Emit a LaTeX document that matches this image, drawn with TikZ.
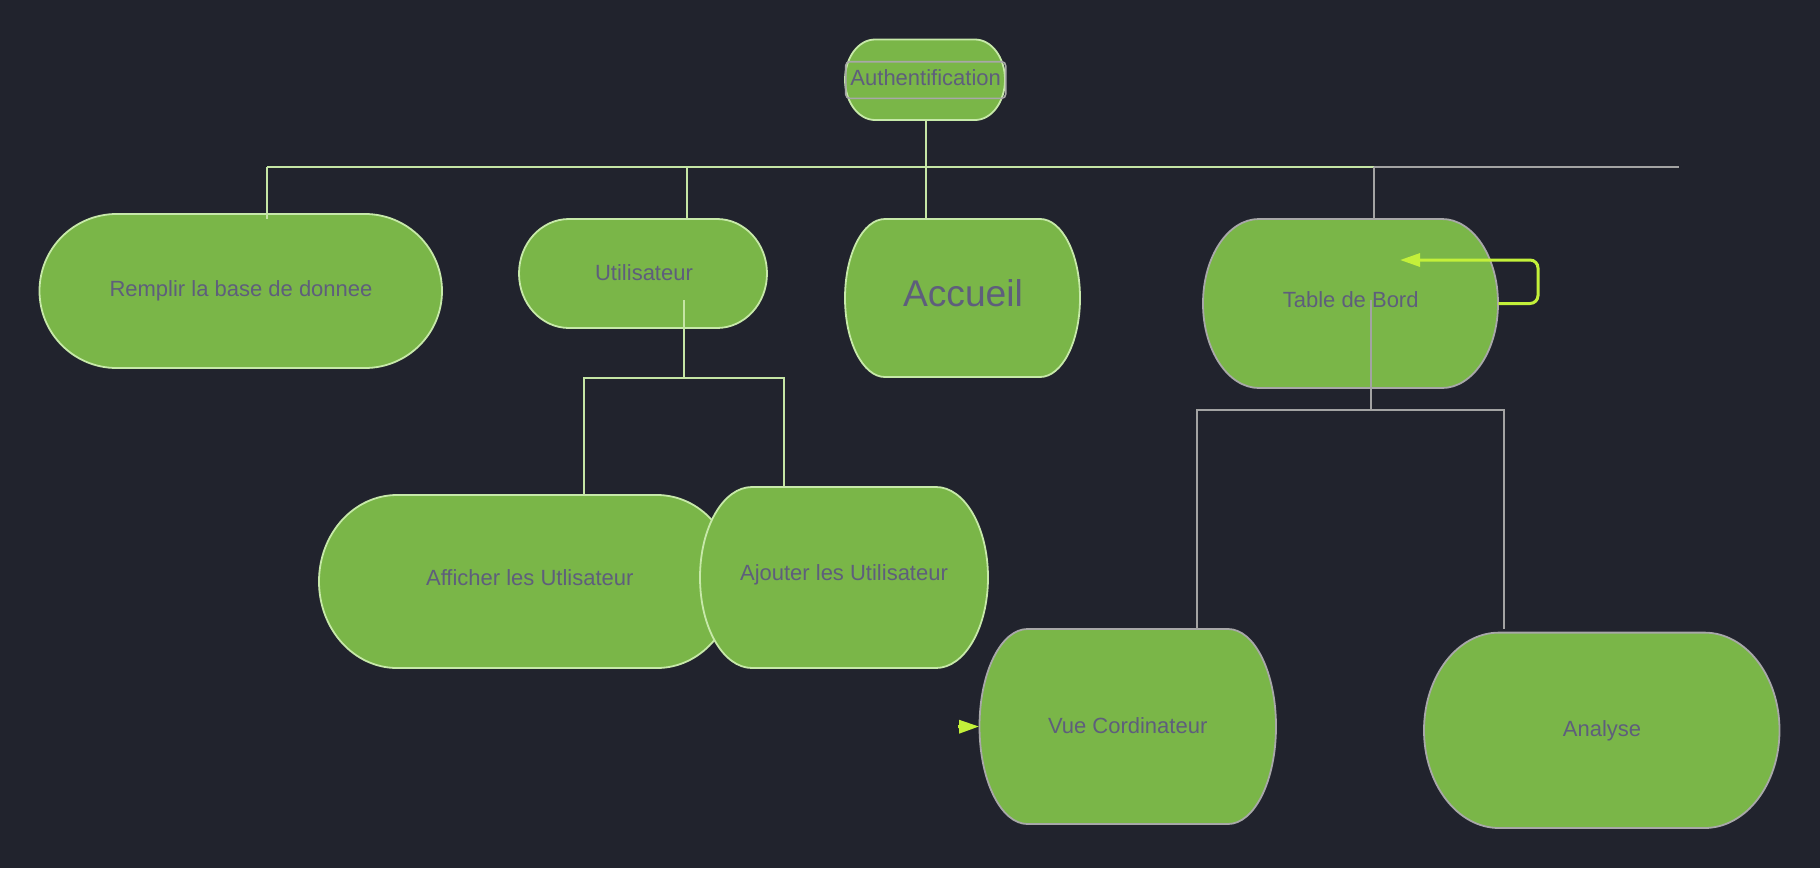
\documentclass[tikz,border=0pt]{standalone}
\usepackage{fontspec}
\setmainfont{Liberation Sans}
\usetikzlibrary{arrows.meta}
\definecolor{bg}{HTML}{21232D}
\definecolor{nodefill}{HTML}{7AB648}
\definecolor{gborder}{HTML}{C7E9A9}
\definecolor{yborder}{HTML}{A8A8A8}
\definecolor{gline}{HTML}{C5E5A5}
\definecolor{yline}{HTML}{A3A3A3}
\definecolor{loopc}{HTML}{C3F03A}
\definecolor{txtc}{HTML}{5E5E7C}
\newcommand\blob[7]{%
  \pgfmathsetmacro\blobry{(#5-#3)/2}%
  \pgfmathsetmacro\blobw{(#4-#2)*0.5}%
  \pgfmathsetmacro\blobh{(#5-#3)*0.5}%
  \path[#7] (#2+#6,-#3) -- (#4-#6,-#3) arc[start angle=90,end angle=-90,x radius=#6,y radius=\blobry] -- (#2+#6,-#5) arc[start angle=270,end angle=90,x radius=#6,y radius=\blobry] -- cycle;%
  \node[inner sep=0pt,minimum width=\blobw pt,minimum height=\blobh pt] (#1) at ({(#2+#4)/2},{-(#3+#5)/2}) {};%
}
\begin{document}
\begin{tikzpicture}[x=0.5pt,y=0.5pt,
  shapeG/.style={fill=nodefill,draw=gborder,line width=0.9pt},
  shapeY/.style={fill=nodefill,draw=yborder,line width=0.9pt},
  txt/.style={text=txtc,font=\fontsize{11}{13}\selectfont,inner sep=0pt,anchor=base},
  gl/.style={draw=gline,line width=0.9pt},
  grl/.style={draw=yline,line width=0.9pt},
  loopline/.style={draw=loopc,line width=1.5pt},
  tip/.style={-{Triangle[length=10pt,width=6.5pt]}}]
\fill[bg] (0,0) rectangle (1820,-868);
\useasboundingbox (0,0) rectangle (1820,-868);

% shapes
\blob{auth}{845}{39.5}{1005}{120}{30}{shapeG}
\blob{rem}{39.5}{214}{442}{368}{77}{shapeG}
\blob{uti}{519}{219}{767}{328}{50}{shapeG}
\blob{acc}{845}{219}{1080}{377}{40}{shapeG}
\blob{tb}{1203}{219}{1498}{388}{56}{shapeY}
\blob{aff}{319}{495}{735}{668}{78}{shapeG}
\blob{ajo}{700}{487}{988}{668}{52}{shapeG}
\blob{vue}{979.5}{629}{1276}{824}{48}{shapeY}
\blob{ana}{1424}{632.6}{1779.5}{828}{75}{shapeY}

% texts
\node[txt,anchor=center,draw=yborder,line width=0.8pt,rounded corners=2pt,
      minimum width=80pt,minimum height=18.3pt,text height=5pt,text depth=0pt] (authT) at (925.7,-80) {Authentification};
\node[txt] (remT) at (241,-296.5) {Remplir la base de donnee};
\node[txt] (utiT) at (644,-280) {Utilisateur};
\node[txt,font=\fontsize{18.6}{22}\selectfont] (accT) at (963,-306) {Accueil};
\node[txt] (tbT) at (1350.7,-307.3) {Table de Bord};
\node[txt] (affT) at (529.8,-585) {Afficher les Utlisateur};
\node[txt] (ajoT) at (844,-580) {Ajouter les Utilisateur};
\node[txt] (vueT) at (1127.7,-733) {Vue Cordinateur};
\node[txt] (anaT) at (1602,-736.7) {Analyse};

% top bus
\coordinate (b1) at (267,-166.7);
\coordinate (b2) at (687,-166.7);
\coordinate (b3) at (926,-166.7);
\coordinate (b4) at (1373.7,-166.7);
\coordinate (b5) at (1679,-166.7);
\coordinate (remIn) at (267,-219);
\draw[gl] (b1) -- (b4);
\draw[grl] (b4) -- (b5);
\draw[gl] (b1) -- (remIn);
\draw[gl] (b2) -- (b2 |- uti.north);
\draw[gl] (auth.south -| b3) -- (b3 |- acc.north);
\draw[grl] (b4) -- (b4 |- tb.north);

% Utilisateur children
\coordinate (uS) at (683.7,-300);
\coordinate (uB) at (683.7,-378);
\coordinate (uL) at (584,-378);
\coordinate (uR) at (784,-378);
\draw[gl] (uS) -- (uB);
\draw[gl,line cap=rect] (uL) -- (uR);
\draw[gl] (uL) -- (uL |- aff.north);
\draw[gl] (uR) -- (uR |- ajo.north);

% Table de Bord children
\coordinate (tS) at (1370.7,-300);
\coordinate (tB) at (1370.7,-410);
\coordinate (tL) at (1197,-410);
\coordinate (tR) at (1504,-410);
\coordinate (tRe) at (1504,-629);
\draw[grl] (tS) -- (tB);
\draw[grl,line cap=rect] (tL) -- (tR);
\draw[grl] (tL) -- (tL |- vue.north);
\draw[grl] (tR) -- (tRe);

% self loop on Table de Bord
\coordinate (lc) at (1538,-260);
\coordinate (tbIn) at (1400,-260);
\draw[loopline,tip,rounded corners=4pt] (tb.east) -| (lc) -- (tbIn);

% arrow into Vue Cordinateur
\coordinate (vA) at (958,-726.7);
\draw[loopline,tip] (vA) -- (vue.west);
\end{tikzpicture}
\end{document}
